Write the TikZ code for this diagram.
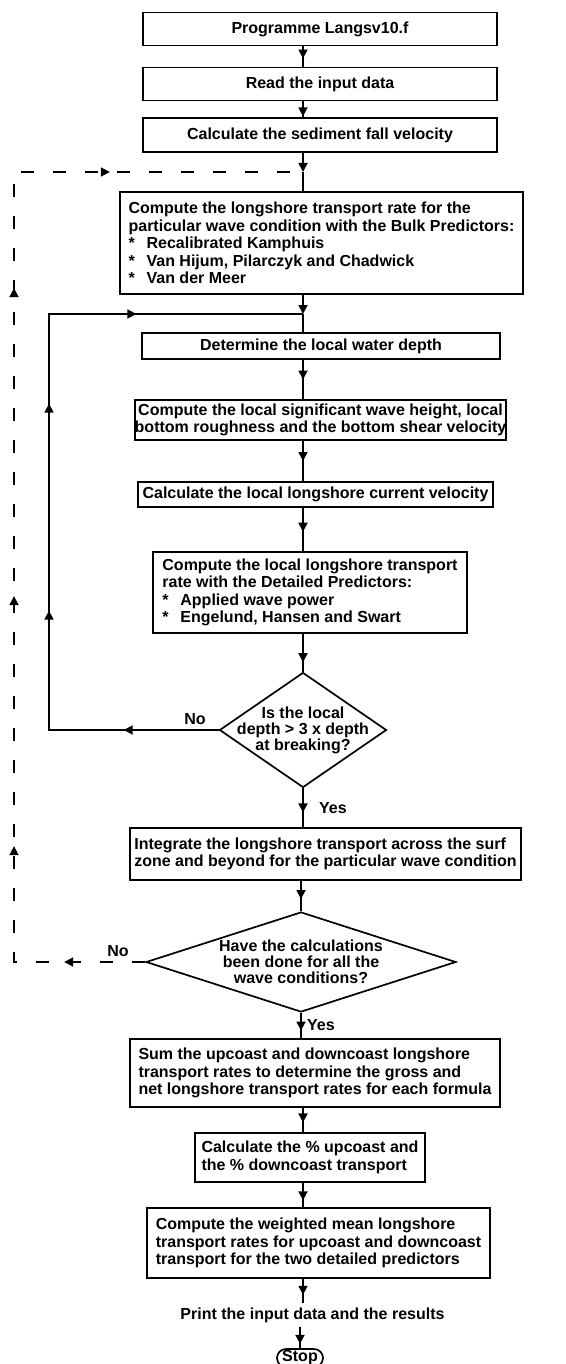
\documentclass[tikz,border=0pt]{standalone}
\usepackage{fontspec}
\setmainfont{Liberation Sans}
\usetikzlibrary{shapes.geometric,arrows.meta,decorations.markings}

\tikzset{
  caja/.style={draw, line width=1.7pt, inner sep=0pt, align=left,
    font=\bfseries\fontsize{16}{17.5}\selectfont},
  rombo/.style={draw, diamond, line width=1.7pt, inner sep=0pt},
  rombotxt/.style={inner sep=0pt, align=center,
    font=\bfseries\fontsize{16}{16}\selectfont},
  rotulo/.style={inner sep=0pt, font=\bfseries\fontsize{16}{17}\selectfont},
  punta/.style={line width=1.7pt, -{Triangle[length=9pt,width=9pt]}},
  flecha/.style={line width=1.7pt, postaction={decorate},
    decoration={markings, mark=at position #1 with {\arrow{Triangle[length=9pt,width=9pt]}}}},
  flecha/.default=0.6,
}

\begin{document}
\begin{tikzpicture}[x=1pt,y=-1pt]
\useasboundingbox (0,0) rectangle (565,1364);
%% eje vertical y cruces %%%%%%%%%%%%%%%%%%%%%
\coordinate (eje) at (303,0);
\coordinate (jtop) at (303,172);
\coordinate (jloop) at (303,314);
\def\ast{\makebox[18pt][l]{*}}

%% cajas %%%%%%%%%%%%%%%%%%%%%%%%%%%%%%%%%%%%%
\node[caja, minimum width=354pt, minimum height=33pt] (prog) at (320,29) {Programme Langsv10.f};
\node[caja, minimum width=354pt, minimum height=33pt] (leer) at (320,84) {Read the input data};
\node[caja, minimum width=354pt, minimum height=34pt] (fall) at (320,135) {Calculate the sediment fall velocity};
\node[caja, minimum width=403pt, minimum height=102pt] (bulk) at (321.5,243)
  {Compute the longshore transport rate for the\\
   particular wave condition with the Bulk Predictors:\\
   \ast Recalibrated Kamphuis\\
   \ast Van Hijum, Pilarczyk and Chadwick\\
   \ast Van der Meer};
\node[caja, minimum width=358pt, minimum height=26pt] (prof) at (321,346) {Determine the local water depth};
\node[caja, align=center, minimum width=371pt, minimum height=40pt] (ola) at (320.5,420)
  {Compute the local significant wave height, local\\
   bottom roughness and the bottom shear velocity};
\node[caja, minimum width=355pt, minimum height=25pt] (corr) at (315.5,494.5) {Calculate the local longshore current velocity};
\node[caja, minimum width=314pt, minimum height=81pt] (det) at (310,592.5)
  {Compute the local longshore transport\\
   rate with the Detailed Predictors:\\
   \ast Applied wave power\\
   \ast Engelund, Hansen and Swart};

%% rombo 1 %%
\node[rombo, minimum width=167pt, minimum height=115pt] (d1) at (303,730) {};
\node[rombotxt] (d1t) at (d1) {Is the local\\ depth > 3 x depth\\ at breaking?};

\node[caja, minimum width=391pt, minimum height=52pt] (integ) at (325.5,854)
  {Integrate the longshore transport across the surf\\
   zone and beyond for the particular wave condition};

%% rombo 2 %%
\node[rombo, minimum width=310pt, minimum height=100pt] (d2) at (301,962) {};
\node[rombotxt] (d2t) at (d2) {Have the calculations\\ been done for all the\\ wave conditions?};

\node[caja, minimum width=370pt, minimum height=68pt] (suma) at (315,1073)
  {Sum the upcoast and downcoast longshore\\
   transport rates to determine the gross and\\
   net longshore transport rates for each formula};
\node[caja, minimum width=230pt, minimum height=49pt] (porc) at (310,1157.5)
  {Calculate the \% upcoast and\\ the \% downcoast transport};
\node[caja, minimum width=343pt, minimum height=70pt] (media) at (318.5,1243)
  {Compute the weighted mean longshore\\
   transport rates for upcoast and downcoast\\
   transport for the two detailed predictors};
\node[rotulo, inner sep=4pt] (print) at (312.5,1315) {Print the input data and the results};
\node[caja, rounded corners=9pt, minimum width=46pt, minimum height=18pt] (stop) at (300,1358) {Stop};

%% rotulos %%
\node[rotulo] (no1) at (195,719) {No};
\node[rotulo, anchor=west] (si1) at (319,808) {Yes};
\node[rotulo] (no2) at (118,951) {No};
\node[rotulo, anchor=west] (si2) at (307,1025) {Yes};

%% flechas %%%%%%%%%%%%%%%%%%%%%%%%%%%%%%%%%%%
\draw[flecha=0.6] (prog.south -| eje) -- (leer.north -| eje);
\draw[flecha=0.95] (leer.south -| eje) -- (fall.north -| eje);
\draw[punta] (fall.south -| eje) -- (jtop);
\draw[line width=1.7pt] (jtop) -- (bulk.north -| eje);
\draw[punta] (bulk.south -| eje) -- (jloop);
\draw[line width=1.7pt] (jloop) -- (prof.north -| eje);
\draw[flecha=0.5] (prof.south -| eje) -- (ola.north -| eje);
\draw[flecha=0.5] (ola.south -| eje) -- (corr.north -| eje);
\draw[flecha=0.55] (corr.south -| eje) -- (det.north -| eje);
\draw[flecha=0.75] (det.south -| eje) -- (d1.north);
\draw[flecha=0.62] (d1.south) -- (integ.north -| d1.south);
\draw[flecha=0.6] (integ.south -| d2.north) -- (d2.north);
\draw[flecha=0.7] (d2.south) -- (suma.north -| d2.south);
\draw[flecha=0.6] (suma.south -| eje) -- (porc.north -| eje);
\draw[flecha=0.72] (porc.south -| eje) -- (media.north -| eje);
\draw[flecha=0.65] (media.south -| eje) -- (print.north -| eje);
\draw[flecha=0.8] (print.south -| stop.north) -- (stop.north);

%% bucle continuo (No) %%%%%%%%%%%%%%%%%%%%%%%%
\coordinate (ll) at (49,314);
\draw[line width=1.7pt, postaction={decorate},
  decoration={markings,
    mark=at position 95pt with {\arrow{Triangle[length=9pt,width=9pt]}},
    mark=at position 289pt with {\arrow{Triangle[length=9pt,width=9pt]}},
    mark=at position 496pt with {\arrow{Triangle[length=9pt,width=9pt]}},
    mark=at position 673pt with {\arrow{Triangle[length=9pt,width=9pt]}}}]
  (d1.west) -| (ll) -- (jloop);

%% bucle discontinuo (No) %%%%%%%%%%%%%%%%%%%%%
\coordinate (dl) at (14,172);
\draw[line width=1.7pt, dash pattern=on 13pt off 19pt, postaction={decorate},
  decoration={markings,
    mark=at position 81pt with {\arrow{Triangle[length=9pt,width=9pt]}},
    mark=at position 247pt with {\arrow{Triangle[length=9pt,width=9pt]}},
    mark=at position 497pt with {\arrow{Triangle[length=9pt,width=9pt]}},
    mark=at position 805pt with {\arrow{Triangle[length=9pt,width=9pt]}},
    mark=at position 1017pt with {\arrow{Triangle[length=9pt,width=9pt]}}}]
  (d2.west) -| (dl) -- (jtop);
\end{tikzpicture}
\end{document}
